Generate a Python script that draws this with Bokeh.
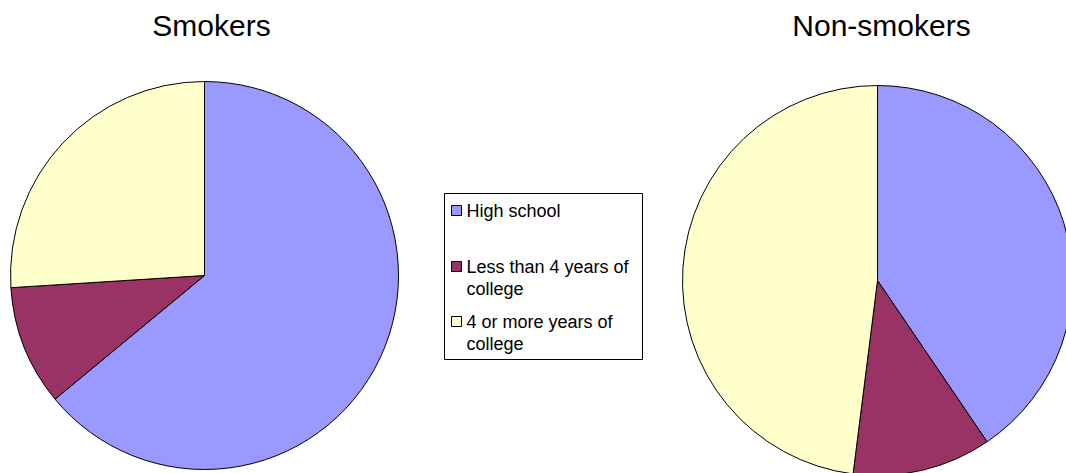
import numpy as np
from bokeh.plotting import figure
from bokeh.models import Range1d, ColumnDataSource
from bokeh.core.properties import value
from bokeh.embed import file_html
from bokeh.resources import INLINE

# ---- data ----
categories = ["High school", "Less than 4 years of college", "4 or more years of college"]
legend_lines = [["High school"], ["Less than 4 years of", "college"], ["4 or more years of", "college"]]
smokers = [64.0, 10.0, 26.0]
non_smokers = [40.5, 11.5, 48.0]
colors = ["#9999FF", "#993366", "#FFFFCC"]
titles = ["Smokers", "Non-smokers"]

W, H = 1066, 473
p = figure(width=W, height=H, output_backend="svg", toolbar_location=None,
           x_range=Range1d(0, W), y_range=Range1d(0, H), min_border=0)
p.axis.visible = False
p.grid.visible = False
p.outline_line_color = None
p.background_fill_color = "white"
p.border_fill_color = "white"

FONT = value("Liberation Sans")

def Y(img_y):
    return H - img_y

def add_pie(vals, cx, cy, r):
    v = np.array(vals, dtype=float)
    frac = v / v.sum()
    cum_after = np.cumsum(frac)
    cum_before = cum_after - frac
    start = np.pi / 2 - cum_after * 2 * np.pi
    end = np.pi / 2 - cum_before * 2 * np.pi
    src = ColumnDataSource(dict(start=start, end=end, color=colors, cat=categories))
    p.wedge(x=cx, y=Y(cy), radius=r, start_angle="start", end_angle="end",
            fill_color="color", line_color="black", line_width=1, source=src)

add_pie(smokers, 204, 275, 194)
add_pie(non_smokers, 877, 280, 195)

# titles
p.text(x=[211, 881], y=[Y(25), Y(25)], text=titles, text_font=FONT,
       text_font_size="30px", text_align="center", text_baseline="middle",
       text_color="black")

# legend box
p.quad(left=[444], right=[642], top=[Y(193)], bottom=[Y(359)],
       fill_color="white", line_color="black", line_width=1)

sw_y = [210, 266, 321]
p.rect(x=[456] * 3, y=[Y(v) for v in sw_y], width=10, height=10,
       fill_color=colors, line_color="black", line_width=1)

tx, ty, tt = [], [], []
for i, lines in enumerate(legend_lines):
    for j, ln in enumerate(lines):
        tx.append(466)
        ty.append(Y(sw_y[i] + 22 * j))
        tt.append(ln)
p.text(x=tx, y=ty, text=tt, text_font=FONT, text_font_size="18px",
       text_align="left", text_baseline="middle", text_color="black")

open("out.html", "w").write(file_html(p, INLINE))
